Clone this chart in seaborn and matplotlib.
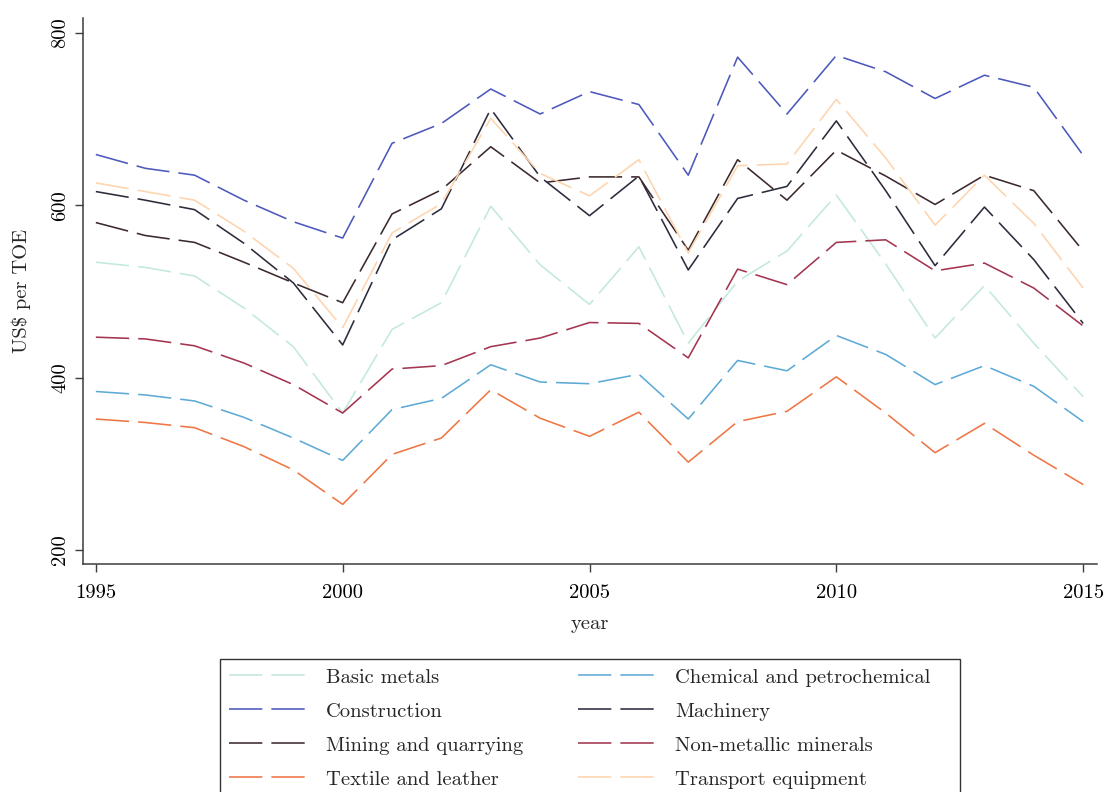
import matplotlib
matplotlib.use("Agg")
import matplotlib.pyplot as plt
from matplotlib.patches import Rectangle
import numpy as np
import pandas as pd
import seaborn as sns

# Industrial energy prices by sector, US$ per tonne of oil equivalent
years = list(range(1995, 2016))

basic_metals = [534, 528, 518, 481, 436, 359, 456, 487, 599, 531, 485, 552, 440, 512, 547, 612, 532, 446, 507, 440, 378]
chemical = [384, 380, 373, 354, 330, 304, 363, 376, 415, 395, 393, 404, 352, 420, 408, 449, 427, 392, 414, 390, 349]
construction = [659, 643, 635, 606, 581, 562, 672, 695, 735, 706, 732, 717, 635, 772, 706, 774, 755, 724, 751, 737, 658]
machinery = [616, 606, 595, 556, 510, 438, 560, 596, 712, 633, 588, 634, 525, 608, 622, 698, 617, 530, 598, 537, 463]
mining = [580, 565, 557, 534, 510, 487, 590, 618, 668, 626, 633, 633, 548, 653, 606, 664, 634, 601, 635, 617, 547]
non_metallic = [447, 445, 437, 417, 392, 359, 410, 414, 436, 446, 464, 463, 423, 526, 508, 557, 560, 524, 533, 504, 460]
textile = [352, 348, 342, 320, 293, 253, 311, 330, 386, 353, 332, 360, 302, 349, 361, 401, 359, 313, 347, 310, 276]
transport = [626, 616, 606, 570, 527, 458, 568, 602, 701, 637, 611, 653, 545, 646, 648, 723, 655, 577, 635, 579, 504]

sectors = ["Basic metals", "Chemical and petrochemical", "Construction", "Machinery",
           "Mining and quarrying", "Non-metallic minerals", "Textile and leather",
           "Transport equipment"]
series = [basic_metals, chemical, construction, machinery, mining, non_metallic,
          textile, transport]
colors = ["#c3e8dc", "#5eaad6", "#4c58bb", "#2c2b3c",
          "#3b292d", "#a3354f", "#ee7644", "#fdd4ad"]

y_ticks = [200, 400, 600, 800]
x_ticks = [1995, 2000, 2005, 2010, 2015]

df = pd.DataFrame({
    "year": np.tile(years, len(sectors)),
    "value": np.concatenate(series),
    "sector": np.repeat(sectors, len(years)),
})

sns.set_style("ticks")
plt.rcParams["font.family"] = ["cmr10", "DejaVu Serif"]
plt.rcParams["axes.formatter.use_mathtext"] = True
plt.rcParams["lines.scale_dashes"] = False

palette = dict(zip(sectors, colors))

W, H = 1104, 792
fig = plt.figure(figsize=(W / 100, H / 100), dpi=100)
ax = fig.add_axes([83 / W, 1 - 564 / H, (1097 - 83) / W, (564 - 18) / H])

sns.lineplot(data=df, x="year", y="value", hue="sector", hue_order=sectors,
             palette=palette, errorbar=None, legend=False, ax=ax,
             linewidth=1.15, linestyle=(0, (24, 6.5)))

ax.set_xlim(1994.74, 2015.28)
ax.set_ylim(183.8, 817.4)
ax.set_xticks(x_ticks)
ax.set_yticks(y_ticks)
ax.set_xticklabels([str(t) for t in x_ticks])
ax.set_yticklabels([str(t) for t in y_ticks], rotation=90, va="center")

spine_col = "#3c3c3c"
sns.despine(ax=ax)
for s in ("left", "bottom"):
    ax.spines[s].set_color(spine_col)
    ax.spines[s].set_linewidth(1.1)
ax.tick_params(axis="both", length=5.8, width=1.0, color=spine_col,
               labelsize=14.8, labelcolor="black")
ax.tick_params(axis="x", pad=9)
ax.tick_params(axis="y", pad=4)

ax.set_xlabel("year", fontsize=14.8)
ax.set_ylabel(r"US\$ per TOE", fontsize=14.8)
ax.xaxis.set_label_coords(0.5, -0.094)
ax.yaxis.set_label_coords(-0.051, 0.5)
ax.grid(False)

# legend fills row by row: reorder for matplotlib's column-major layout
lines = dict(zip(sectors, ax.get_lines()[:len(sectors)]))
order = sectors[0::2] + sectors[1::2]
leg = fig.legend([lines[s] for s in order], order, loc="upper left",
                 bbox_to_anchor=(220 / W, 1 - 659 / H),
                 bbox_transform=fig.transFigure, ncol=2, fontsize=14.8,
                 handlelength=3.7, handletextpad=1.0, columnspacing=2.69,
                 labelspacing=0.76, borderpad=0.45, borderaxespad=0,
                 frameon=False)

# legend border box, running off the lower edge of the figure
fig.patches.append(Rectangle((220 / W, -0.05), (960 - 220) / W, 1 - 659 / H + 0.05,
                             transform=fig.transFigure, fill=False,
                             edgecolor="#333333", linewidth=1.0))

fig.savefig("out.png", dpi=100, facecolor="white")
